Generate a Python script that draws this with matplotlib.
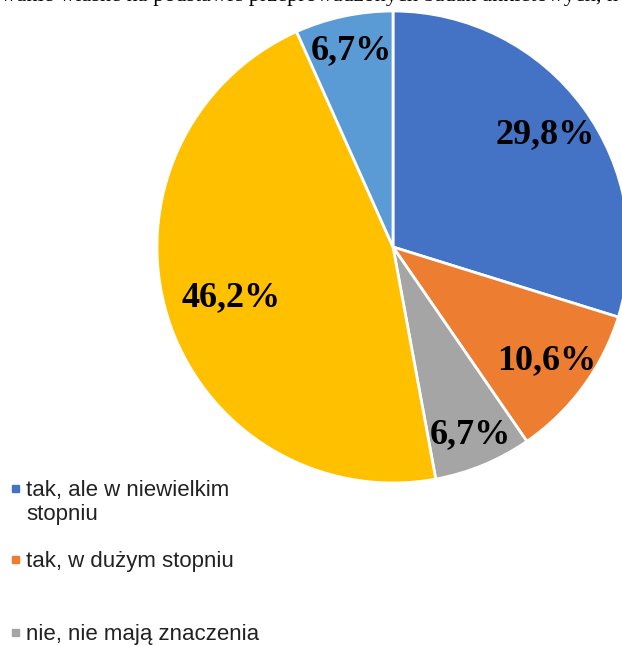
import numpy as np
import matplotlib.pyplot as plt
from matplotlib.patches import Rectangle

# udział odpowiedzi (%)
labels = ["tak, ale w niewielkim\nstopniu", "tak, w dużym stopniu",
          "nie, nie mają znaczenia", "nie", "trudno powiedzieć"]
values = [29.8, 10.6, 6.7, 46.2, 6.7]
colors = ["#4472C4", "#ED7D31", "#A5A5A5", "#FFC000", "#5B9BD5"]
label_dist = [0.80, 0.81, 0.86, 0.72, 0.85]
legend_y = [489, 560, 633]  # px from top, first line of each entry

source = "Źródło: opracowanie własne na podstawie przeprowadzonych badań ankietowych, n=104"
prefix = "Źródło: opraco"

W, H = 622, 646
fig = plt.figure(figsize=(W / 100, H / 100), dpi=100)

cx, cy, r = 393, 247, 236
ax = fig.add_axes([(cx - r) / W, (H - cy - r) / H, 2 * r / W, 2 * r / H])
wedges, _ = ax.pie(values, colors=colors, startangle=90, counterclock=False,
                   radius=1, wedgeprops=dict(edgecolor="white", linewidth=2))
ax.set_xlim(-1, 1)
ax.set_ylim(-1, 1)
ax.set_aspect("equal")
ax.axis("off")

for w, v, d in zip(wedges, values, label_dist):
    ang = np.deg2rad((w.theta1 + w.theta2) / 2)
    ax.text(d * np.cos(ang), d * np.sin(ang), f"{v:.1f}%".replace(".", ","),
            ha="center", va="center", fontsize=26, fontweight="bold",
            family="Liberation Serif", color="black")

# legenda (widoczne trzy pierwsze pozycje)
for lab, col, y in zip(labels, colors, legend_y):
    fig.patches.append(Rectangle((12 / W, 1 - (y + 3) / H), 7 / W, 7 / H,
                                 transform=fig.transFigure, color=col))
    fig.text(26 / W, 1 - (y - 9) / H, lab, ha="left", va="top",
             fontsize=16, family="Liberation Sans", color="#222222",
             linespacing=1.2, multialignment="left")

# podpis źródła u góry, częściowo ucięty
fig.canvas.draw()
rend = fig.canvas.get_renderer()
tmp = fig.text(0, 0, prefix, fontsize=16, family="Liberation Serif")
pw = tmp.get_window_extent(rend).width
tmp.remove()
fig.text(-pw / W, 1 - 1.5 / H, source, ha="left", va="baseline",
         fontsize=16, family="Liberation Serif", color="black")

fig.savefig("out.png", dpi=100, facecolor="white")
